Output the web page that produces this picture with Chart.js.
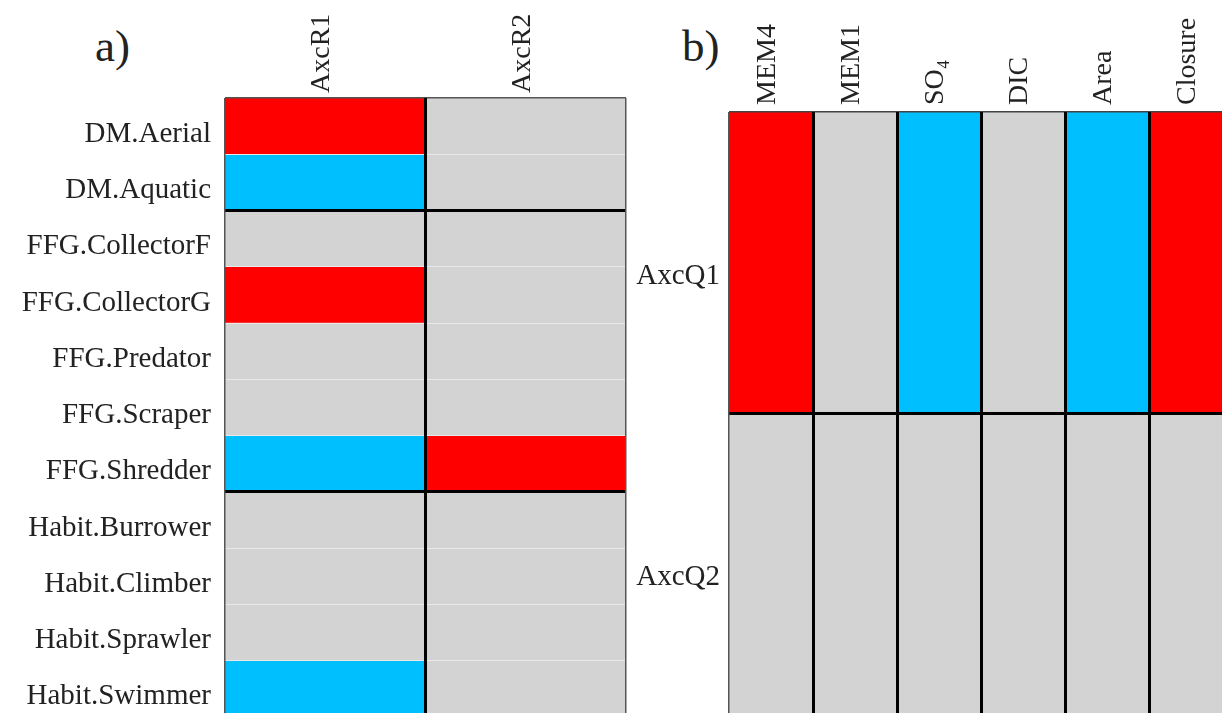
<!DOCTYPE html>
<html>
<head>
<meta charset="utf-8">
<script src="https://cdn.jsdelivr.net/npm/chart.js@4.4.1/dist/chart.umd.min.js"></script>
<style>
  html, body { margin: 0; padding: 0; background: #fff; overflow: hidden; width: 1222px; height: 713px; }
  .panel { position: absolute; top: 0; }
  .tag { position: absolute; font-family: 'Liberation Serif', 'Times New Roman', serif; font-size: 45px; color: #222; }
</style>
</head>
<body>
<div class="tag" style="left:95px; top:20px;">a)</div>
<div class="tag" style="left:682px; top:20px;">b)</div>
<canvas id="chartA" class="panel" style="left:0px;" width="640" height="730"></canvas>
<canvas id="chartB" class="panel" style="left:600px;" width="640" height="730"></canvas>
<script>
    // panel a: traits x RLQ axes (1 = positive, -1 = negative, 0 = n.s.)
    var rowsA = ["DM.Aerial", "DM.Aquatic", "FFG.CollectorF", "FFG.CollectorG", "FFG.Predator",
                 "FFG.Scraper", "FFG.Shredder", "Habit.Burrower", "Habit.Climber", "Habit.Sprawler", "Habit.Swimmer"];
    var colsA = ["AxcR1", "AxcR2"];
    var axcR1 = [1, -1, 0, 1, 0, 0, -1, 0, 0, 0, -1];
    var axcR2 = [0, 0, 0, 0, 0, 0, 1, 0, 0, 0, 0];
    var groupBreaksA = [2, 7]; // grid line index where a new trait group starts

    // panel b: environment x RLQ axes
    var rowsB = ["AxcQ1", "AxcQ2"];
    var colsB = ["MEM4", "MEM1", "SO\u2084", "DIC", "Area", "Closure"];
    var mem4 = [1, 0];
    var mem1 = [0, 0];
    var so4 = [-1, 0];
    var dic = [0, 0];
    var area = [-1, 0];
    var closure = [1, 0];

    var RED = "#ff0000";
    var BLUE = "#00bfff";
    var GREY = "#d3d3d3";
    var FONT = "'Liberation Serif', 'Times New Roman', serif";

    function colorFor(v) {
      if (v > 0) return RED;
      if (v < 0) return BLUE;
      return GREY;
    }

    function makeDatasets(columns) {
      return columns.map(function (col) {
        return {
          data: col.map(function () { return 1; }),
          backgroundColor: col.map(colorFor),
          borderWidth: 0,
          barPercentage: 1,
          categoryPercentage: 1,
          xAxisID: 'x',
          yAxisID: 'y'
        };
      });
    }

    // no extra room for overhanging tick labels, chart area is set by hand
    function noPadding(scale) {
      scale.paddingTop = 0;
      scale.paddingBottom = 0;
      scale.paddingLeft = 0;
      scale.paddingRight = 0;
    }

    function createChart(id, rows, cols, columns, opt) {
      var ctx = document.getElementById(id).getContext('2d');
      return new Chart(ctx, {
        type: 'bar',
        data: {
          labels: rows,
          datasets: makeDatasets(columns)
        },
        options: {
          indexAxis: 'y',
          responsive: false,
          animation: false,
          layout: { padding: opt.padding },
          plugins: {
            legend: { display: false },
            tooltip: { enabled: false }
          },
          scales: {
            x: {
              type: 'linear',
              display: false,
              stacked: true,
              min: 0,
              max: cols.length
            },
            xCat: {
              type: 'category',
              position: 'top',
              labels: cols,
              offset: true,
              border: { display: false },
              grid: {
                offset: true,
                drawTicks: false,
                z: 2,
                color: opt.colGridColor,
                lineWidth: opt.colGridWidth
              },
              ticks: {
                minRotation: 90,
                maxRotation: 90,
                padding: opt.colPad,
                labelOffset: 30,  // rotated labels sit left of the column centre otherwise
                color: '#222',
                font: { family: FONT, size: 28 }
              },
              afterFit: function (scale) { noPadding(scale); scale.height = opt.top; }
            },
            y: {
              type: 'category',
              stacked: true,
              offset: true,
              border: { display: false },
              grid: {
                offset: true,
                drawTicks: false,
                z: 1,
                color: opt.rowGridColor,
                lineWidth: opt.rowGridWidth
              },
              ticks: {
                padding: opt.rowPad,
                labelOffset: opt.rowLabelOffset,
                color: '#222',
                font: { family: FONT, size: 29 }
              },
              afterFit: function (scale) { noPadding(scale); scale.width = opt.left; }
            }
          }
        }
      });
    }

    var chartA = createChart('chartA', rowsA, colsA, [axcR1, axcR2], {
      padding: { left: 0, top: 0, right: 14, bottom: 13 },
      top: 98,
      left: 225,
      colPad: 5,
      rowPad: 14,
      rowLabelOffset: 8,
      colGridColor: function (c) { return c.index === 1 ? '#000' : '#555'; },
      colGridWidth: function (c) { return c.index === 1 ? 3 : 1.5; },
      rowGridColor: function (c) {
        if (c.index === 0) return '#555';
        if (groupBreaksA.indexOf(c.index) >= 0) return '#000';
        return '#e8e8e8';
      },
      rowGridWidth: function (c) {
        if (groupBreaksA.indexOf(c.index) >= 0) return 3;
        return c.index === 0 ? 1.5 : 1;
      }
    });

    var chartB = createChart('chartB', rowsB, colsB, [mem4, mem1, so4, dic, area, closure], {
      padding: { left: 0, top: 0, right: 7, bottom: 16 },
      top: 112,
      left: 129,
      colPad: 7,
      rowPad: 9,
      rowLabelOffset: 14,
      colGridColor: function (c) { return c.index === 0 ? '#555' : '#000'; },
      colGridWidth: function (c) { return c.index === 0 ? 1.5 : 3; },
      rowGridColor: function (c) { return c.index === 1 ? '#000' : '#444'; },
      rowGridWidth: function (c) { return c.index === 1 ? 3 : 1.5; }
    });
</script>
</body>
</html>
